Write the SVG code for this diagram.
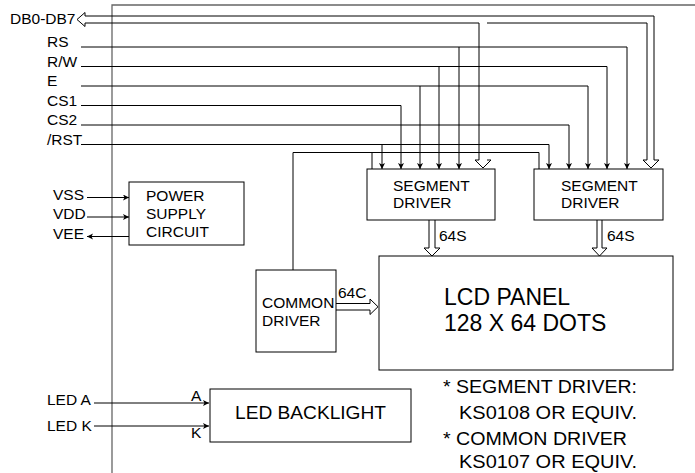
<svg xmlns="http://www.w3.org/2000/svg" width="695" height="473" viewBox="0 0 695 473">
<style>
text{font-family:"Liberation Sans",Arial,sans-serif;fill:#000}
.s15{font-size:15.5px}
.s17{font-size:18px}
.s18{font-size:17.5px}
.s23{font-size:23px}
.ln{fill:none;stroke:#000;stroke-width:1}
.fr{fill:none;stroke:#666;stroke-width:1.3}
.box{fill:#fff;stroke:#000;stroke-width:1}
.hol{fill:#fff;stroke:#000;stroke-width:1;stroke-linejoin:miter}
</style>
<defs>
<marker id="ah" markerUnits="userSpaceOnUse" markerWidth="8" markerHeight="8" refX="6" refY="3" orient="auto">
<path d="M0,0 L6,3 L0,6 L1.5,3 Z" fill="#000"/>
</marker>
</defs>
<rect width="695" height="473" fill="#fff"/>
<g id="frame">
<path class="fr" d="M112,473 V5 H695"/>
</g>
<g id="connectors">
<path class="ln" d="M81,47 H627 V169" marker-end="url(#ah)"/>
<path class="ln" d="M459,47 V169" marker-end="url(#ah)"/>
<path class="ln" d="M81,66.5 H607 V169" marker-end="url(#ah)"/>
<path class="ln" d="M439,66.5 V169" marker-end="url(#ah)"/>
<path class="ln" d="M81,86 H588 V169" marker-end="url(#ah)"/>
<path class="ln" d="M420,86 V169" marker-end="url(#ah)"/>
<path class="ln" d="M81,105.5 H401 V169" marker-end="url(#ah)"/>
<path class="ln" d="M81,125 H569 V169" marker-end="url(#ah)"/>
<path class="ln" d="M81,144.5 H549 V169" marker-end="url(#ah)"/>
<path class="ln" d="M382,144.5 V169" marker-end="url(#ah)"/>
<path class="ln" d="M293,270 V152.5 H539 V169 M372,152.5 V169"/>
<path class="ln" d="M85,16 H654 V160 M85,23 H479 V160 M487,23 H647 V160"/>
<path class="hol" d="M85,16 V12.5 L77,19.5 L85,26.5 V23"/>
<path class="hol" d="M479,160 H475 L483,168 L491,160 H487"/>
<path class="hol" d="M647,160 H643 L651,168 L659,160 H654"/>
<path class="ln" d="M429,220 V248 M435,220 V248 M597,220 V248 M602,220 V248"/>
<path class="hol" d="M429,248 H424 L432,256 L440,248 H435"/>
<path class="hol" d="M597,248 H592 L599.5,256 L607,248 H602"/>
<path class="ln" d="M336,303.5 H370 M336,310 H370"/>
<path class="hol" d="M370,303.5 V299 L378,306.75 L370,314.5 V310"/>
<path class="ln" d="M87,197.5 H129" marker-end="url(#ah)"/>
<path class="ln" d="M87,217 H129" marker-end="url(#ah)"/>
<path class="ln" d="M129,236.5 H87" marker-end="url(#ah)"/>
<path class="ln" d="M94,403 H209" marker-end="url(#ah)"/>
<path class="ln" d="M94,426 H209" marker-end="url(#ah)"/>
</g>
<g id="labels">
<text class="s15" x="10" y="24">DB0-DB7</text>
<text class="s15" x="47" y="47">RS</text>
<text class="s15" x="47" y="67">R/W</text>
<text class="s15" x="47" y="86">E</text>
<text class="s15" x="47" y="106">CS1</text>
<text class="s15" x="47" y="125">CS2</text>
<text class="s15" x="47" y="145">/RST</text>
<text class="s15" x="53" y="200">VSS</text>
<text class="s15" x="53" y="219">VDD</text>
<text class="s15" x="53" y="239">VEE</text>
<text class="s15" x="47" y="405">LED A</text>
<text class="s15" x="47" y="431">LED K</text>
<text class="s15" x="191" y="401">A</text>
<text class="s15" x="191" y="438">K</text>
<text class="s15" x="439" y="241">64S</text>
<text class="s15" x="607" y="241">64S</text>
<text class="s15" x="338" y="298">64C</text>
</g>
<g id="segment-driver-1">
<rect class="box" x="367" y="169" width="128" height="51"/>
<text class="s15" x="393" y="191">SEGMENT</text>
<text class="s15" x="393" y="208">DRIVER</text>
</g>
<g id="segment-driver-2">
<rect class="box" x="534" y="169" width="129" height="51"/>
<text class="s15" x="561" y="191">SEGMENT</text>
<text class="s15" x="561" y="208">DRIVER</text>
</g>
<g id="power-supply">
<rect class="box" x="129" y="182" width="115" height="63"/>
<text class="s15" x="146" y="201">POWER</text>
<text class="s15" x="146" y="219">SUPPLY</text>
<text class="s15" x="146" y="237">CIRCUIT</text>
</g>
<g id="common-driver">
<rect class="box" x="256" y="270" width="80" height="82"/>
<text class="s15" x="262" y="308">COMMON</text>
<text class="s15" x="262" y="326">DRIVER</text>
</g>
<g id="lcd-panel">
<rect class="box" x="379" y="256" width="294" height="114"/>
<text class="s23" x="444" y="305">LCD PANEL</text>
<text class="s23" x="444" y="331">128 X 64 DOTS</text>
</g>
<g id="led-backlight">
<rect class="box" x="210" y="389" width="201" height="53"/>
<text class="s17" x="235" y="419" textLength="151" lengthAdjust="spacingAndGlyphs">LED BACKLIGHT</text>
</g>
<g id="notes">
<text class="s18" x="443" y="393" textLength="194" lengthAdjust="spacingAndGlyphs">* SEGMENT DRIVER:</text>
<text class="s18" x="459" y="419" textLength="178" lengthAdjust="spacingAndGlyphs">KS0108 OR EQUIV.</text>
<text class="s18" x="443" y="445" textLength="184" lengthAdjust="spacingAndGlyphs">* COMMON DRIVER</text>
<text class="s18" x="459" y="468" textLength="178" lengthAdjust="spacingAndGlyphs">KS0107 OR EQUIV.</text>
</g>
</svg>
